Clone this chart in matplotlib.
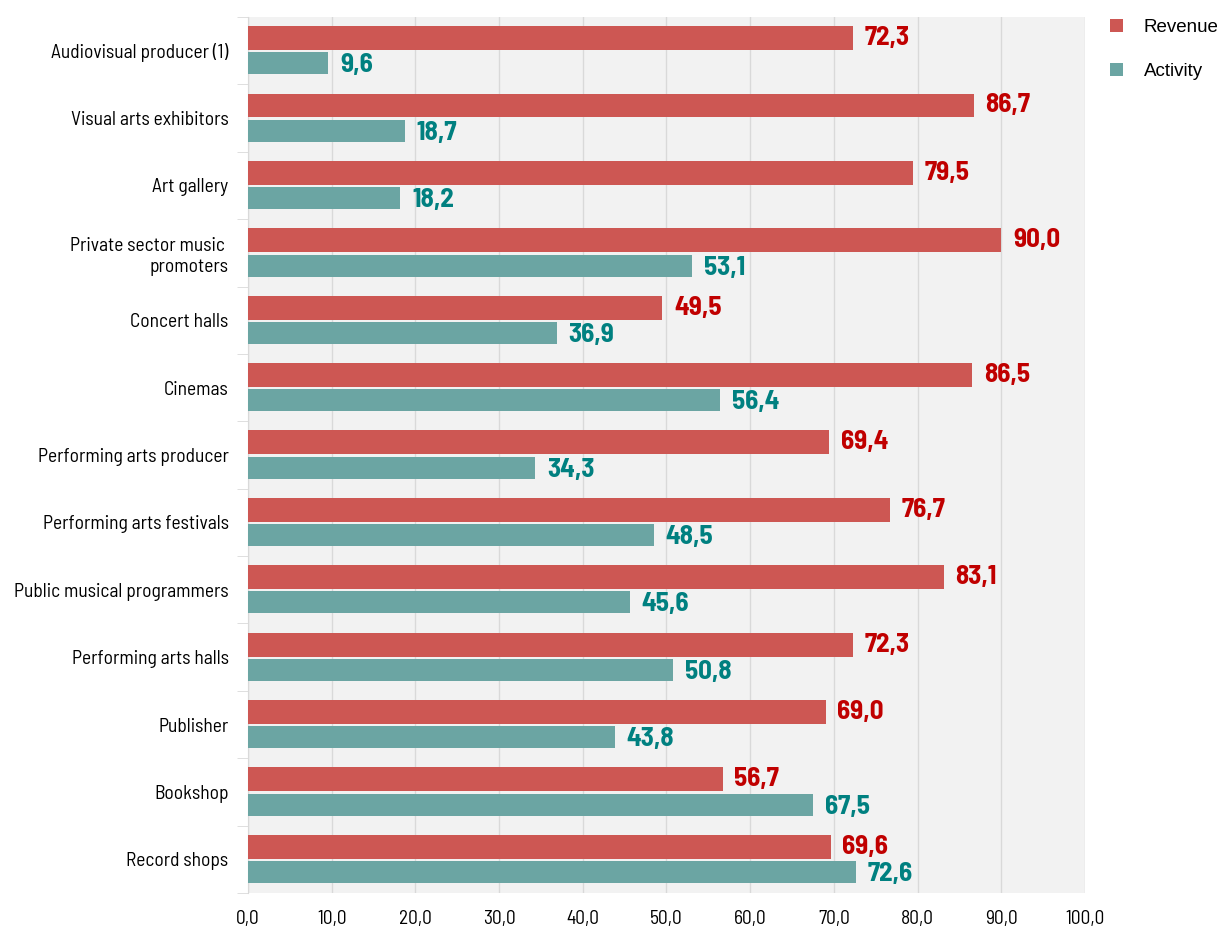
import numpy as np
import matplotlib.pyplot as plt
from matplotlib.ticker import FixedLocator

plt.rcParams['font.family'] = ['Barlow Semi Condensed', 'Liberation Sans', 'DejaVu Sans']

categories = ["Audiovisual producer (1)", "Visual arts exhibitors", "Art gallery",
              "Private sector music \npromoters", "Concert halls", "Cinemas",
              "Performing arts producer", "Performing arts festivals",
              "Public musical programmers", "Performing arts halls", "Publisher",
              "Bookshop", "Record shops"]
revenue = [72.3, 86.7, 79.5, 90.0, 49.5, 86.5, 69.4, 76.7, 83.1, 72.3, 69.0, 56.7, 69.6]
activity = [9.6, 18.7, 18.2, 53.1, 36.9, 56.4, 34.3, 48.5, 45.6, 50.8, 43.8, 67.5, 72.6]
xticks = [0, 10, 20, 30, 40, 50, 60, 70, 80, 90, 100]

red_bar, teal_bar = "#cd5753", "#6ba5a3"
red_txt, teal_txt = "#c00000", "#008080"

fig = plt.figure(figsize=(12.17, 9.31), dpi=100)
ax = fig.add_axes([0.2038, 0.0408, 0.6877, 0.9409])
ax.set_facecolor("#f2f2f2")

y = np.arange(len(categories))
h = 0.355
ax.barh(y - h / 2 - 0.01, revenue, height=h, color=red_bar, label="Revenue", zorder=3)
ax.barh(y + h / 2 + 0.01, activity, height=h * 0.92, color=teal_bar, label="Activity", zorder=3)

for i, (r, a) in enumerate(zip(revenue, activity)):
    ax.text(r + 1.4, i - h / 2 - 0.01, f"{r:.1f}".replace(".", ","), va="center", ha="left",
            color=red_txt, fontsize=19.5, fontweight="bold")
    ax.text(a + 1.4, i + h / 2 + 0.04, f"{a:.1f}".replace(".", ","), va="center", ha="left",
            color=teal_txt, fontsize=19.5, fontweight="bold")

ax.set_xlim(0, 100)
ax.set_ylim(len(categories) - 0.5, -0.5)
ax.set_xticks(xticks)
ax.set_xticklabels([f"{t:.1f}".replace(".", ",") for t in xticks], fontsize=14)
ax.set_yticks(y)
ax.set_yticklabels(categories, fontsize=14)
ax.yaxis.set_minor_locator(FixedLocator(np.arange(-0.5, len(categories), 1)))
ax.tick_params(axis="y", which="major", length=0, pad=14)
ax.tick_params(axis="y", which="minor", length=8, color="#d9d9d9")
ax.tick_params(axis="x", length=0, pad=12)
ax.grid(axis="x", color="#d9d9d9", linewidth=1, zorder=0)

for s in ["top", "right", "bottom"]:
    ax.spines[s].set_visible(False)
ax.spines["left"].set_color("#d9d9d9")

ax.legend(loc="upper left", bbox_to_anchor=(1.01, 1.017), frameon=False,
          prop={"family": ["Liberation Sans", "DejaVu Sans"], "size": 13.5},
          handlelength=0.7, handleheight=0.7, labelspacing=1.45, handletextpad=1.1)

fig.savefig("out.png", dpi=100)
